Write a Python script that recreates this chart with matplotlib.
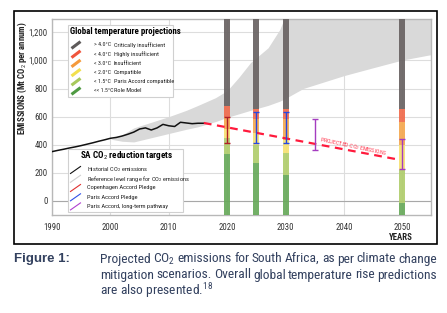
import numpy as np
import matplotlib.pyplot as plt
from matplotlib.patches import Rectangle

# Arial Narrow is not installed; Roboto Condensed is the closest narrow sans
plt.rcParams['font.family'] = ['Roboto Condensed', 'DejaVu Sans']
plt.rcParams['mathtext.fontset'] = 'custom'
plt.rcParams['mathtext.rm'] = 'Roboto Condensed'
plt.rcParams['mathtext.it'] = 'Roboto Condensed'
plt.rcParams['mathtext.bf'] = 'Roboto Condensed:bold'

# ---------------------------------------------------------------------------
# Data
# ---------------------------------------------------------------------------
hist_years = list(range(1990, 2017))
hist_emissions = [351, 360, 368, 377, 385, 394, 404, 414, 425, 435, 446, 452, 462,
                  475, 490, 512, 520, 505, 520, 545, 535, 530, 560, 555, 550, 553, 553]

band_years = [2000, 2002, 2004, 2007, 2010, 2013, 2015, 2018, 2020, 2022, 2024,
              2027, 2029, 2030, 2033, 2040, 2045, 2050, 2056]
band_lower = [440, 425, 420, 450, 480, 510, 528, 565, 595, 620, 645,
              680, 710, 730, 800, 892, 948, 1003, 1050]
band_upper = [440, 470, 520, 560, 600, 645, 680, 735, 785, 880, 985,
              1090, 1220, 1320, 1400, 1400, 1400, 1400, 1400]

proj_years = [2016, 2049]
proj_emissions = [555, 297]

bar_years = [2020, 2025, 2030, 2050]
green_top = [333, 273, 185, -16]
lgreen_top = [446, 396, 344, 221]
yellow_top = [510, 484, 434, 399]
orange_top = [600, 580, 580, 559]
red_top = [678, 655, 655, 657]

copenhagen_years = [2020]
copenhagen_low = [411]
copenhagen_high = [600]
paris_years = [2025, 2030]
paris_low = [415, 411]
paris_high = [631, 636]
longterm_years = [2035, 2050]
longterm_low = [363, 226]
longterm_high = [584, 439]

temp_labels = ['> 4.0°C', '< 4.0°C', '< 3.0°C', '< 2.0°C', '< 1.5°C', '<< 1.5°C']
rating_labels = ['Critically insufficient', 'Highly insufficient', 'Insufficient',
                 'Compatible', 'Paris Accord compatible', 'Role Model']
target_labels = ['Historial CO$_2$ emissions', 'Reference level range for CO$_2$ emissions',
                 'Copenhagen Accord Pledge', 'Paris Accord Pledge',
                 'Paris Accord, long-term pathway']

bar_colors = ['#67a95a', '#b0cd6c', '#f7e172', '#f5a84f', '#f06a4c', '#686262']
legend_colors = ['#5e5a5a', '#f0553c', '#f59a3c', '#f2e04e', '#a8c95c', '#4f9a42']
target_colors = ['#111111', '#d0d0d0', '#e03030', '#3050e8', '#b040d0']

YMIN, YMAX = -100, 1295

# ---------------------------------------------------------------------------
fig = plt.figure(figsize=(4.47, 3.13), dpi=100)
ax = fig.add_axes([52 / 447, 1 - 215 / 313, (431 - 52) / 447, (215 - 19) / 313])

ax.fill_between(band_years, band_lower, band_upper, color='#d9d9d9', lw=0, zorder=1)

tops = [green_top, lgreen_top, yellow_top, orange_top, red_top, [1400] * 4]
bottom = [YMIN - 20] * 4
for top, c in zip(tops, bar_colors):
    ax.bar(bar_years, np.array(top) - np.array(bottom), bottom=bottom, width=1.0,
           color=c, alpha=0.92, lw=0, zorder=3)
    bottom = top

ax.plot(hist_years, hist_emissions, color='#111111', lw=1.1, zorder=4)
ax.plot(proj_years, proj_emissions, color='#ff1a3c', lw=1.6, dashes=(3.5, 2.5), zorder=4)

for xs, lo, hi, c in [(copenhagen_years, copenhagen_low, copenhagen_high, '#b01e28'),
                      (paris_years, paris_low, paris_high, '#2848e0'),
                      (longterm_years, longterm_low, longterm_high, '#a43cc0')]:
    lo = np.array(lo)
    ax.errorbar(xs, lo, yerr=[np.zeros(len(lo)), np.array(hi) - lo], fmt='none',
                ecolor=c, elinewidth=1.0, capsize=2, capthick=1.0, zorder=6)

ax.text(2041.6, 386, 'PROJECTED CO$_2$ EMISSIONS', color='#ff3a50', fontsize=4.2,
        rotation=-12, ha='center', va='center', rotation_mode='anchor', zorder=6)

ax.set_xlim(1990.4, 2054.9)
ax.set_ylim(YMIN, YMAX)
ax.set_xticks(range(1990, 2051, 10))
ax.set_yticks(range(0, 1201, 200))
ax.set_yticklabels(['{:,}'.format(v) for v in range(0, 1201, 200)])
ax.tick_params(length=0, labelsize=6.3, colors='#333333')
ax.tick_params(axis='x', pad=6)
ax.tick_params(axis='y', pad=3)
ax.grid(color='#dddddd', lw=0.8, zorder=0)
ax.set_axisbelow(True)
ax.axhline(0, color='#a8a8a8', lw=0.8, zorder=2)
for s in ax.spines.values():
    s.set_color('#b8b8b8')
    s.set_linewidth(1.0)

# ---------------------------------------------------------------------------
# Overlay in pixel coordinates: frame, legends, labels, caption
# ---------------------------------------------------------------------------
ov = fig.add_axes([0, 0, 1, 1])
ov.set_xlim(0, 447)
ov.set_ylim(313, 0)
ov.axis('off')

ov.add_patch(Rectangle((13.5, 11), 423.5, 233, fill=False, ec='black', lw=1.2))
ov.text(22, 78, 'EMISSIONS (Mt CO$_2$ per annum)', rotation=90, ha='center', va='center',
        fontsize=6.3, fontweight='bold', color='#222222')
ov.text(401, 238, 'YEARS', ha='center', va='center', fontsize=6.3, fontweight='bold',
        color='#222222')

# legend 1
ov.add_patch(Rectangle((68.3, 25), 104.7, 72.3, fc='white', ec='#d0d0d0', lw=0.8, zorder=5))
ov.text(70.5, 31.7, 'Global temperature projections', fontsize=6.4, fontweight='bold',
        va='center', ha='left', zorder=6)
for i in range(6):
    y = 45 + i * 9.2
    ov.plot([71.5, 80.5], [y + 3.4, y - 3.4], color=legend_colors[i], lw=2.2,
            solid_capstyle='butt', zorder=6)
    ov.text(94, y, temp_labels[i], fontsize=4.2, va='center', ha='left', color='#222222', zorder=6)
    ov.text(113.5, y, rating_labels[i], fontsize=4.5, va='center', ha='left', color='#222222', zorder=6)

# legend 2
ov.add_patch(Rectangle((68.3, 149.3), 115, 62.4, fc='white', ec='#d0d0d0', lw=0.8, zorder=5))
ov.text(80, 155.5, 'SA CO$_2$ reduction targets', fontsize=6.6, fontweight='bold',
        va='center', ha='left', zorder=6)
for i, y in enumerate([170, 178.8, 188, 197.3, 206.4]):
    ov.plot([70.5, 80.5], [y + 3.5, y - 3.5], color=target_colors[i], lw=0.8, zorder=6)
    ov.text(86.7, y, target_labels[i], fontsize=4.6, va='center', ha='left',
            color='#222222', zorder=6)

# caption, first two lines justified like the journal layout
cap_color = '#33415f'
cap_size = 9.7
renderer = fig.canvas.get_renderer()


def justify(words, x0, x1, y):
    texts = [ov.text(0, y, w, fontsize=cap_size, color=cap_color, va='center', ha='left')
             for w in words]
    widths = [t.get_window_extent(renderer).width for t in texts]
    gap = (x1 - x0 - sum(widths)) / (len(words) - 1)
    x = x0
    for t, w in zip(texts, widths):
        t.set_x(x)
        x += w + gap
    return gap


ov.text(14, 259, 'Figure 1:', fontsize=9.5, fontweight='bold', color=cap_color,
        family=['Liberation Sans', 'DejaVu Sans'], va='center', ha='left')
justify('Projected CO$_2$ emissions for South Africa, as per climate change'.split(),
        100, 437, 259)
justify('mitigation scenarios. Overall global temperature rise predictions'.split(),
        100, 437, 275)
ov.text(100, 291, 'are also presented.$^{18}$', fontsize=cap_size, color=cap_color,
        va='center', ha='left')

fig.savefig('out.png', dpi=100)
